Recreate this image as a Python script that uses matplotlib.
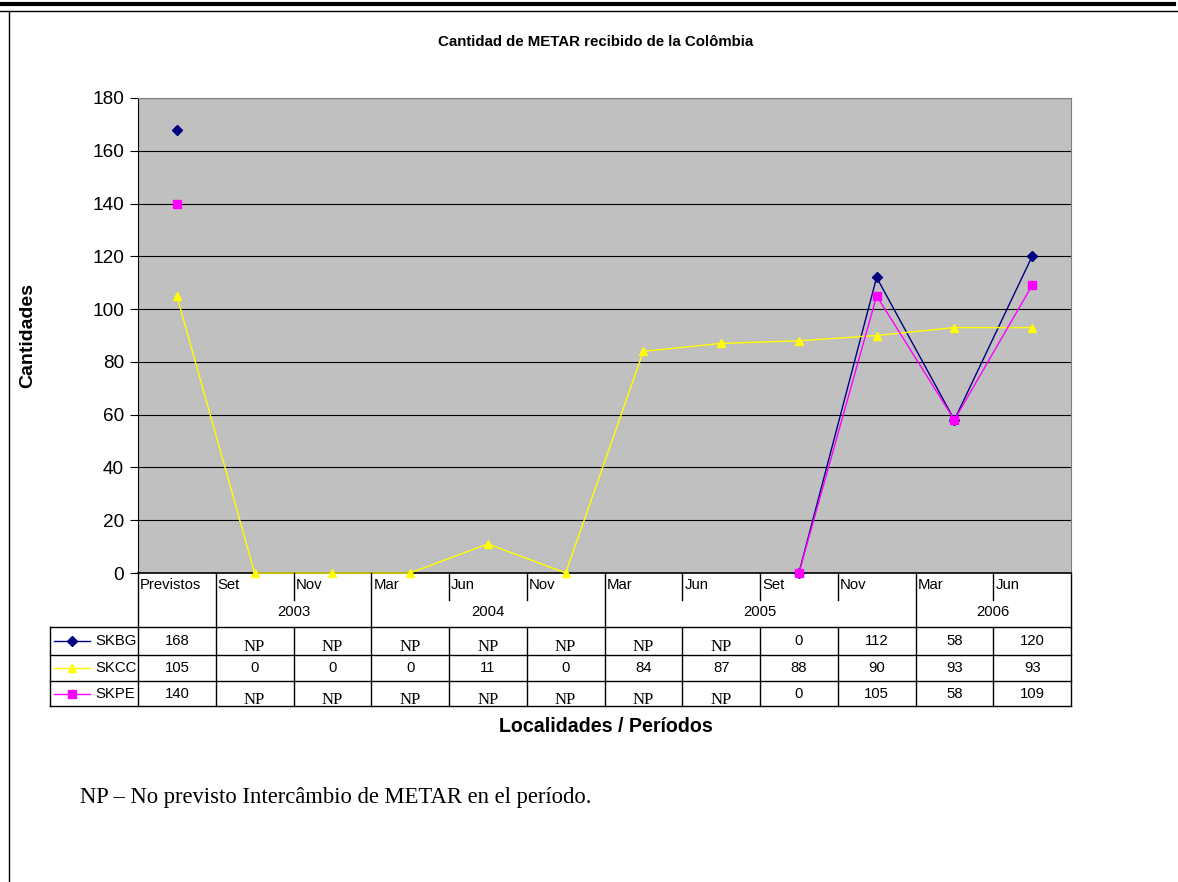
import numpy as np
import matplotlib
matplotlib.use("Agg")
import matplotlib.pyplot as plt
from matplotlib.lines import Line2D

# data
categories = ["Previstos", "Set", "Nov", "Mar", "Jun", "Nov",
              "Mar", "Jun", "Set", "Nov", "Mar", "Jun"]
years = ["2003", "2004", "2005", "2006"]
year_spans = [(1, 2), (3, 5), (6, 9), (10, 11)]
nan = np.nan
skbg = [168, nan, nan, nan, nan, nan, nan, nan, 0, 112, 58, 120]
skcc = [105, 0, 0, 0, 11, 0, 84, 87, 88, 90, 93, 93]
skpe = [140, nan, nan, nan, nan, nan, nan, nan, 0, 105, 58, 109]
series = [("SKBG", skbg, "#000080", "D"),
          ("SKCC", skcc, "#FFFF00", "^"),
          ("SKPE", skpe, "#FF00FF", "s")]

W, H = 1178, 882
fig = plt.figure(figsize=(W / 100, H / 100), dpi=100)
plt.rcParams["font.family"] = ["Liberation Sans", "DejaVu Sans"]
SERIF = ["Liberation Serif", "DejaVu Serif"]
TFS = 10.7  # table font size


def px(x0, y0, x1, y1):
    return [x0 / W, 1 - y1 / H, (x1 - x0) / W, (y1 - y0) / H]


# page frame lines
fig.add_artist(Line2D([0, 1174 / W], [1 - 3.5 / H] * 2, color="black", lw=3))
fig.add_artist(Line2D([0, 1], [1 - 10.5 / H] * 2, color="black", lw=1))
fig.add_artist(Line2D([9 / W] * 2, [0, 1 - 10.5 / H], color="black", lw=1))

# main chart
L, R, T, B = 138, 1071, 98, 573
ax = fig.add_axes(px(L, T, R, B))
ax.set_facecolor("#C0C0C0")
x = np.arange(len(categories))
for name, vals, col, mk in series:
    ax.plot(x, vals, color=col, lw=1, marker=mk, ms=6 if mk != "D" else 5,
            markeredgecolor=col, clip_on=False, zorder=3)
ax.set_xlim(-0.5, len(categories) - 0.5)
ax.set_ylim(0, 180)
ax.set_yticks(range(0, 181, 20))
ax.yaxis.grid(True, color="black", lw=0.8)
ax.set_axisbelow(True)
ax.set_xticks([])
ax.tick_params(axis="y", labelsize=13.7, length=6, direction="out", pad=4)
for s in ["top", "right"]:
    ax.spines[s].set_color("#808080")
ax.spines["bottom"].set_linewidth(1.2)

fig.text(28 / W, 1 - 336 / H, "Cantidades", rotation=90, ha="center",
         va="center", fontsize=14, fontweight="bold")
fig.text(596 / W, 1 - 42 / H, "Cantidad de METAR recibido de la Colômbia",
         ha="center", va="center", fontsize=10.8, fontweight="bold")

# data table under the chart
cw = (R - L) / len(categories)
TL = 50
tab = fig.add_axes(px(TL, B, R, 707))
tab.set_xlim(-0.5 - (L - TL) / cw, len(categories) - 0.5)
tab.set_ylim(707, B)
tab.axis("off")
edges = np.arange(len(categories) + 1) - 0.5
xl = tab.get_xlim()[0]
kw = dict(color="black", lw=1, clip_on=False)
tab.plot([xl, edges[-1]], [627, 627], **kw)
for yy in [655, 681, 706]:
    tab.plot([xl, edges[-1]], [yy, yy], **kw)
tab.plot([xl, xl], [627, 706], **kw)
year_edges = {-0.5, 0.5} | {e + 0.5 for _, e in year_spans}
for e in edges:
    if e in year_edges:
        tab.plot([e, e], [B, 706], **kw)
    else:
        tab.plot([e, e], [B, 600], **kw)
        tab.plot([e, e], [627, 706], **kw)
for i, c in enumerate(categories):
    tab.text(i - 0.5 + 2 / cw, 585, c, ha="left", va="center", fontsize=TFS)
for yr, (s, e) in zip(years, year_spans):
    tab.text((s + e) / 2, 612, yr, ha="center", va="center", fontsize=TFS)

row_y = [641, 668, 694]
for (name, vals, col, mk), yy in zip(series, row_y):
    tab.plot([xl + 4 / cw, xl + 40 / cw], [yy, yy], color=col, lw=1, clip_on=False)
    tab.plot([xl + 22 / cw], [yy], marker=mk, color=col, ms=6 if mk != "D" else 5,
             clip_on=False)
    tab.text(xl + 45 / cw, yy, name, ha="left", va="center", fontsize=TFS)
    for i, v in enumerate(vals):
        if np.isnan(v):
            tab.text(i, yy + 6, "NP", ha="center", va="center", fontsize=12,
                     family=SERIF)
        else:
            tab.text(i, yy, str(int(v)), ha="center", va="center", fontsize=TFS)

fig.text(606 / W, 1 - 726 / H, "Localidades / Períodos", ha="center",
         va="center", fontsize=14.1, fontweight="bold")
fig.text(80 / W, 1 - 797 / H, "NP – No previsto Intercâmbio de METAR en el período.",
         ha="left", va="center", fontsize=16.3, family=SERIF)

fig.savefig("out.png", dpi=100)
